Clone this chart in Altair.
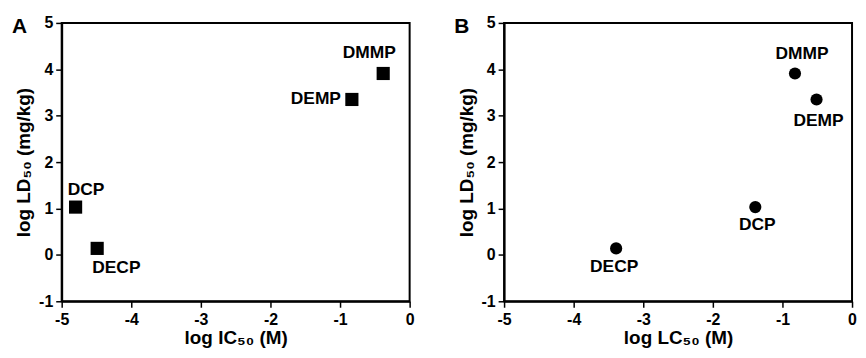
import altair as alt
import pandas as pd

# ---- data ----
compounds = ["DMMP", "DEMP", "DCP", "DECP"]
log_ld50 = [3.91, 3.35, 1.03, 0.14]
log_ic50 = [-0.38, -0.83, -4.80, -4.49]
log_lc50 = [-0.82, -0.51, -1.39, -3.39]
x_ticks = [-5, -4, -3, -2, -1, 0]
y_ticks = [-1, 0, 1, 2, 3, 4, 5]

FONT = "Liberation Sans"
W, H = 350, 280

# label placement (align, dx, dy) per compound
offsets_A = {"DMMP": ("center", -14, -21), "DEMP": ("right", -11, 0),
             "DCP": ("left", -8, -17), "DECP": ("left", -5, 20)}
offsets_B = {"DMMP": ("center", 7, -20), "DEMP": ("center", 2, 22),
             "DCP": ("center", 2, 18), "DECP": ("center", -2, 19)}


def panel(xvals, xtitle, shape, size, letter, offsets):
    df = pd.DataFrame({"compound": compounds, "x": xvals, "y": log_ld50})
    xenc = alt.X("x:Q",
                 scale=alt.Scale(domain=[-5, 0], nice=False, zero=False),
                 axis=alt.Axis(values=x_ticks, title=xtitle,
                               labelExpr="datum.value + ''",
                               labelFlush=False, labelPadding=4, titlePadding=1))
    yenc = alt.Y("y:Q",
                 scale=alt.Scale(domain=[-1, 5], nice=False, zero=False),
                 axis=alt.Axis(values=y_ticks, title="log LD₅₀ (mg/kg)",
                               labelExpr="datum.value + ''",
                               labelFlush=False, labelPadding=3, titlePadding=5))
    base = alt.Chart(df)
    pts = base.mark_point(shape=shape, filled=True, size=size, color="black",
                          opacity=1).encode(x=xenc, y=yenc)
    layers = [pts]
    for name, (align, dx, dy) in offsets.items():
        layers.append(
            base.transform_filter(alt.datum.compound == name)
            .mark_text(align=align, baseline="middle", dx=dx, dy=dy, font=FONT,
                       fontSize=17.5, fontWeight="bold", color="black")
            .encode(x="x:Q", y="y:Q", text="compound:N"))
    letter_layer = alt.Chart(pd.DataFrame({"t": [letter]})).mark_text(
        align="left", baseline="top", font=FONT, fontSize=21,
        fontWeight="bold", color="black").encode(
        x=alt.value(-50), y=alt.value(-7), text="t:N")
    layers.append(letter_layer)
    return alt.layer(*layers).properties(width=W, height=H)


pA = panel(log_ic50, "log IC₅₀ (M)", "square", 175, "A", offsets_A)
pB = panel(log_lc50, "log LC₅₀ (M)", "circle", 150, "B", offsets_B)

chart = alt.hconcat(pA, pB, spacing=38).configure(
    padding={"left": 3, "top": 5, "right": 0, "bottom": 0},
    background="white",
).configure_view(
    stroke="black", strokeWidth=2
).configure_axis(
    grid=False, domainColor="black", domainWidth=2, tickColor="black",
    tickWidth=1.5, tickSize=6, labelFont=FONT, labelFontSize=16,
    labelFontWeight="bold", labelColor="black", titleFont=FONT,
    titleFontSize=19, titleFontWeight="bold", titleColor="black",
    labelOverlap=False,
)

chart.save("out.html", embed_options={"renderer": "svg", "actions": False})
